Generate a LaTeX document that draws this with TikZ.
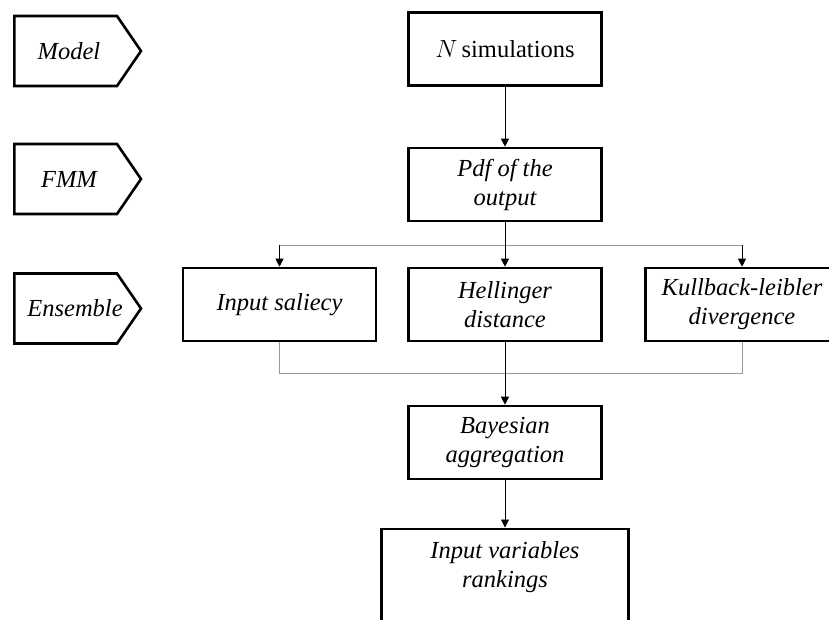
\documentclass[tikz,border=0pt]{standalone}
\usepackage{fontspec}
\setmainfont{Liberation Serif}
\usepackage{tikz}
\usetikzlibrary{arrows.meta}
\usetikzlibrary{calc}

\begin{document}
\begin{tikzpicture}[x=1pt,y=-1pt,
    box/.style={draw,line width=2.6pt,minimum width=193pt,minimum height=73pt,
      inner sep=0pt,align=center,font=\fontsize{24.5}{29}\selectfont\itshape},
    tag/.style={font=\fontsize{24.5}{29}\selectfont\itshape,inner sep=0pt},
    tagline/.style={line width=2.6pt,line join=miter},
    link/.style={draw=gray!80,line width=0.9pt},
    arr/.style={line width=0.9pt,-{Triangle[length=8pt,width=8pt]}}]

    \clip (0,0) rectangle (829,619);

    % stages on the left
    \foreach \nm/\lab/\xx/\yy in {model/Model/69/51, fmm/FMM/69/179, ens/Ensemble/75/308.5}{
      \node[tag] (\nm) at (\xx,\yy) {\lab};
      \draw[tagline] (14.3,\yy-35) -- (117,\yy-35) -- (141,\yy)
        -- (117,\yy+35) -- (14.3,\yy+35) -- cycle;
    }

    \node[box] (sim) at (505,49) {$N$\,\upshape simulations};
    \node[box] (pdf) at (505,184.5) {Pdf of the\\output};
    \node[box] (sal) at (279.5,304.5) {Input saliecy};
    \node[box] (hel) at (505,304.5) {Hellinger\\distance};
    \node[box] (kl) at (742,304.5) {Kullback-leibler\\divergence};
    \node[box] (bay) at (505,442.5) {Bayesian\\aggregation};
    \node[box,anchor=north,minimum width=247pt,inner ysep=13pt]
      (rank) at (505,527.5) {Input variables\\rankings\\\rule{0pt}{70pt}};

    \coordinate (split) at (505,245);
    \coordinate (merge) at (505,373);

    \draw[arr] (sim) -- (pdf);
    \draw[line width=0.9pt] (pdf) -- (split);
    \draw[link] (sal.north |- split) -- (kl.north |- split);
    \draw[arr] (sal.north |- split) -- (sal);
    \draw[arr] (split) -- (hel);
    \draw[arr] (kl.north |- split) -- (kl);

    \draw[link] (sal) -- (sal.south |- merge) -- (kl.south |- merge) -- (kl);
    \draw[arr] (hel) -- (bay);
    \draw[arr] (bay) -- (rank.north);
\end{tikzpicture}
\end{document}
